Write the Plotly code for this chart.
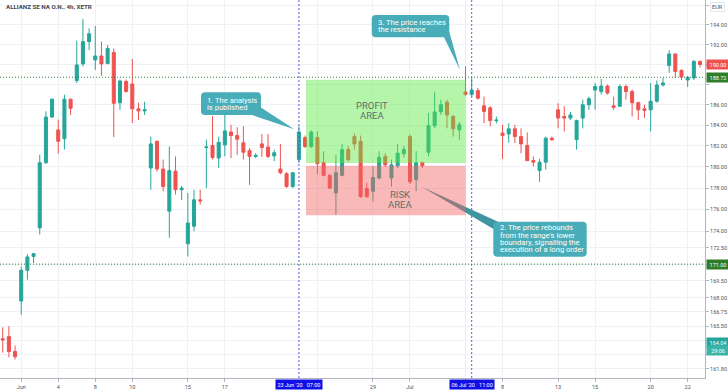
import math
import plotly.graph_objects as go

# ---------------- data ----------------
trading_days = [
    "2020-05-29",
    "2020-06-02", "2020-06-03", "2020-06-04", "2020-06-05",
    "2020-06-08", "2020-06-09", "2020-06-10", "2020-06-11", "2020-06-12",
    "2020-06-15", "2020-06-16", "2020-06-17", "2020-06-18", "2020-06-19",
    "2020-06-22", "2020-06-23", "2020-06-24", "2020-06-25", "2020-06-26",
    "2020-06-29", "2020-06-30",
    "2020-07-01", "2020-07-02", "2020-07-03",
    "2020-07-06", "2020-07-07", "2020-07-08", "2020-07-09", "2020-07-10",
    "2020-07-13", "2020-07-14", "2020-07-15", "2020-07-16", "2020-07-17",
    "2020-07-20", "2020-07-21", "2020-07-22",
]
session_hours = ["07:00", "11:00", "15:00"]

open_ = [
    164.4, 164.6, 163.3, 167.7, 170.45, 171.7, 174.3, 180.4, 184.8, 183.55,
    182.7, 186.55, 188.4, 190.05, 192.3, 190.45, 190.85, 190.1, 191.2, 186.2,
    188.3, 188.05, 185.6, 185.4, 179.9, 182.45, 179.8, 175.85, 179.6, 177.85,
    172.85, 174.45, 176.9, 181.85, 182.05, 180.85, 182.1, 183.35, 183.0, 182.3,
    181.55, 181.0, 182.2, 181.9, 181.05, 179.8, 179.35, 178.15, 180.7, 182.8,
    181.95, 182.8, 180.4, 179.2, 177.55, 179.2, 181.65, 182.9, 182.45, 177.95,
    177.7, 178.95, 181.0, 178.95, 180.1, 181.25, 182.9, 178.8, 180.4, 181.4,
    183.95, 185.3, 186.25, 184.85, 183.55, 187.25, 187.0, 187.4, 185.9, 185.7,
    184.45, 183.25, 183.15, 183.65, 182.9, 182.05, 180.6, 179.65, 180.45, 182.75,
    185.5, 184.85, 184.7, 182.6, 184.7, 186.0, 187.45, 187.3, 187.85, 185.9,
    185.85, 187.8, 187.3, 186.2, 185.6, 185.5, 186.35, 187.95, 189.9, 191.05,
    189.4, 188.45, 188.65, 190.3,
]
high = [
    165.4, 165.5, 163.8, 170.8, 171.9, 172.0, 181.15, 185.35, 186.6, 184.55,
    187.0, 186.6, 192.4, 194.6, 193.65, 193.9, 192.3, 191.95, 191.6, 188.5,
    188.5, 190.55, 186.2, 186.3, 182.9, 182.5, 180.7, 181.95, 181.0, 178.2,
    177.55, 177.85, 177.85, 182.6, 184.9, 182.9, 185.0, 184.05, 183.8, 183.9,
    181.8, 181.3, 183.15, 183.15, 181.65, 182.2, 179.5, 179.5, 183.9, 183.0,
    183.5, 183.4, 181.5, 179.3, 181.15, 182.2, 182.0, 183.2, 183.0, 178.5,
    180.05, 181.5, 181.3, 180.7, 182.2, 182.0, 183.1, 181.5, 180.5, 185.2,
    187.3, 186.5, 186.5, 185.0, 184.3, 189.8, 188.65, 187.65, 186.8, 185.85,
    184.85, 184.05, 184.2, 184.05, 183.7, 183.3, 181.0, 180.75, 182.9, 182.9,
    186.15, 185.85, 185.3, 184.55, 186.5, 186.8, 188.15, 188.55, 188.0, 186.8,
    188.0, 188.0, 187.5, 186.3, 186.0, 188.15, 188.4, 188.65, 191.45, 191.1,
    189.5, 188.85, 190.45, 190.4,
]
low = [
    163.2, 162.8, 162.6, 166.5, 169.6, 171.1, 173.7, 180.3, 184.7, 181.25,
    181.65, 185.0, 188.15, 189.8, 191.45, 189.45, 188.85, 190.0, 182.85, 185.5,
    187.2, 184.2, 184.5, 185.0, 177.85, 179.55, 177.7, 173.4, 177.4, 176.9,
    171.7, 174.0, 176.45, 178.0, 180.7, 179.9, 181.0, 180.85, 181.15, 180.7,
    178.3, 180.85, 180.95, 180.85, 180.55, 179.3, 178.0, 178.0, 180.4, 181.8,
    181.8, 179.3, 179.1, 177.9, 175.5, 179.1, 180.5, 181.65, 177.1, 177.1,
    176.75, 178.8, 180.0, 178.15, 179.9, 180.9, 178.4, 177.7, 179.9, 181.0,
    183.7, 185.0, 183.7, 182.9, 182.6, 186.9, 186.8, 186.5, 184.2, 183.9,
    184.2, 180.75, 182.3, 182.3, 181.3, 180.55, 180.05, 178.6, 179.75, 182.5,
    183.7, 183.4, 184.5, 181.65, 183.7, 185.5, 185.5, 187.0, 187.0, 185.5,
    185.8, 186.5, 184.85, 184.5, 184.7, 183.4, 186.2, 187.8, 189.15, 188.65,
    188.45, 187.75, 188.45, 189.7,
]
close = [
    164.3, 163.3, 162.85, 170.45, 171.65, 171.95, 180.4, 184.8, 186.55, 182.45,
    186.55, 185.65, 189.95, 192.3, 193.1, 190.85, 190.05, 191.6, 186.15, 188.35,
    187.3, 185.6, 185.4, 185.5, 182.2, 179.8, 178.15, 179.65, 177.85, 178.0,
    174.75, 176.9, 176.8, 181.9, 180.9, 182.35, 183.45, 183.0, 182.65, 181.4,
    181.0, 181.1, 181.85, 181.0, 181.35, 179.45, 178.15, 179.45, 183.35, 181.95,
    183.35, 180.3, 179.2, 178.0, 179.45, 181.65, 180.7, 182.2, 177.2, 177.2,
    179.0, 180.9, 180.2, 180.2, 181.3, 181.65, 178.6, 180.4, 180.1, 183.95,
    185.3, 186.0, 185.0, 183.65, 184.05, 187.0, 187.45, 186.65, 185.35, 184.45,
    184.5, 183.0, 183.65, 182.9, 182.2, 180.6, 180.45, 180.45, 182.75, 182.6,
    184.7, 184.7, 185.0, 184.45, 186.0, 186.6, 187.8, 187.85, 187.15, 185.75,
    187.8, 187.3, 186.2, 185.5, 185.45, 186.35, 187.95, 188.15, 191.05, 189.3,
    188.75, 188.7, 190.3, 190.0,
]

tick_times = [
    "2020-06-02 07:00", "2020-06-04 07:00", "2020-06-08 07:00", "2020-06-10 07:00",
    "2020-06-15 07:00", "2020-06-17 07:00", "2020-06-24 07:00", "2020-06-29 07:00",
    "2020-07-01 07:00", "2020-07-06 07:00", "2020-07-08 07:00", "2020-07-13 07:00",
    "2020-07-15 07:00", "2020-07-20 07:00", "2020-07-22 07:00",
]
tick_labels = ["Jun", "4", "8", "10", "15", "17", "", "29", "Jul", "", "8", "13", "15", "20", "22"]

price_ticks = [196, 194, 192, 190, 188, 186, 184, 182, 180, 178, 176, 174, 172.5,
               171, 169.5, 168, 166.75, 165.5, 164.25, 163, 161.8]
price_tick_labels = ["", "194.00", "192.00", "", "", "186.00", "184.00", "182.00",
                     "180.00", "178.00", "176.00", "174.00", "172.50", "", "169.50",
                     "168.00", "166.75", "165.50", "", "", "161.80"]

resistance_level = 188.72
support_level = 171.00
last_price = 190.00
marker_price = 164.04
countdown_text = "29:06"

profit_zone = (180.38, 188.46)
risk_zone = (175.46, 180.12)
zone_bars = (49.15, 75.03)

analysis_time = "2020-06-23 07:00"
resistance_time = "2020-07-06 11:00"
analysis_label = "23 Jun '20\u00a0\u00a0\u00a007:00"
resistance_label = "06 Jul '20\u00a0\u00a0\u00a011:00"

profit_text = ["PROFIT", "AREA"]
risk_text = ["RISK", "AREA"]
callout_analysis = ["1. The analysis", "is published"]
callout_resistance = ["3. The price reaches", "the resistance"]
callout_rebound = ["2. The price rebounds", "from the range's lower",
                   "boundary, signalling the", "execution of a long order"]

title_text = "ALLIANZ SE NA O.N., 4h, XETR"
currency_text = "EUR"

# ---------------- figure ----------------
times = [f"{d} {h}" for d in trading_days for h in session_hours]

FONT = "Roboto, 'Liberation Sans', Arial, sans-serif"
UP, DOWN = "#26a69a", "#ef5350"
GRID = "#eef1f6"
AXIS = "#b2b5be"
CALLOUT = "#48adb8"

W, H = 705.0, 378.0   # plot area in pixels
def X(px):
    return px / W
def Y(py):
    return 1 - py / H

fig = go.Figure()
fig.add_trace(go.Candlestick(
    x=times, open=open_, high=high, low=low, close=close,
    increasing=dict(line=dict(color=UP, width=1), fillcolor=UP),
    decreasing=dict(line=dict(color=DOWN, width=1), fillcolor=DOWN),
    whiskerwidth=0, showlegend=False, hoverinfo="skip",
))

y_top, y_bot = 196.57, 161.03

shapes = []
# horizontal dotted levels
for lvl in (resistance_level, support_level):
    shapes.append(dict(type="line", xref="paper", x0=0, x1=1, yref="y", y0=lvl, y1=lvl,
                       line=dict(color="#2e7d32", width=1, dash="1px,2px"), layer="above"))
# vertical dashed time markers
for t in (analysis_time, resistance_time):
    shapes.append(dict(type="line", xref="x", x0=t, x1=t, yref="paper", y0=0, y1=1,
                       line=dict(color="#5560d8", width=1, dash="2px,2px"), layer="above"))


def rrect(x0, y0, x1, y1, r):
    return (f"M {X(x0+r)},{Y(y0)} L {X(x1-r)},{Y(y0)} Q {X(x1)},{Y(y0)} {X(x1)},{Y(y0+r)} "
            f"L {X(x1)},{Y(y1-r)} Q {X(x1)},{Y(y1)} {X(x1-r)},{Y(y1)} "
            f"L {X(x0+r)},{Y(y1)} Q {X(x0)},{Y(y1)} {X(x0)},{Y(y1-r)} "
            f"L {X(x0)},{Y(y0+r)} Q {X(x0)},{Y(y0)} {X(x0+r)},{Y(y0)} Z")


def tri(p1, p2, p3):
    return f"M {X(p1[0])},{Y(p1[1])} L {X(p2[0])},{Y(p2[1])} L {X(p3[0])},{Y(p3[1])} Z"


# tail of the rebound callout (drawn before zones so the risk overlay tints it)
shapes.append(dict(type="path", xref="paper", yref="paper",
                   path=tri((421.7, 186.7), (493.5, 229), (498, 221.7)),
                   fillcolor="#3f95a0", line=dict(width=0), layer="above"))

# profit / risk zones
shapes.append(dict(type="rect", xref="x", yref="y", x0=zone_bars[0], x1=zone_bars[1],
                   y0=profit_zone[0], y1=profit_zone[1], fillcolor="#5be840",
                   opacity=0.45, line=dict(width=0), layer="above"))
shapes.append(dict(type="rect", xref="x", yref="y", x0=zone_bars[0], x1=zone_bars[1],
                   y0=risk_zone[0], y1=risk_zone[1], fillcolor="#f26363",
                   opacity=0.45, line=dict(width=0), layer="above"))

# callout boxes and tails
shapes.append(dict(type="path", xref="paper", yref="paper", path=rrect(201, 92.3, 261, 115, 4),
                   fillcolor=CALLOUT, line=dict(width=0), layer="above"))
shapes.append(dict(type="path", xref="paper", yref="paper",
                   path=tri((252, 115), (261, 107.5), (294.3, 129.3)),
                   fillcolor=CALLOUT, line=dict(width=0), layer="above"))
shapes.append(dict(type="path", xref="paper", yref="paper", path=rrect(371.7, 15, 449.3, 37.3, 4),
                   fillcolor=CALLOUT, line=dict(width=0), layer="above"))
shapes.append(dict(type="path", xref="paper", yref="paper",
                   path=tri((444, 37.3), (449.3, 32), (460, 70)),
                   fillcolor=CALLOUT, line=dict(width=0), layer="above"))
shapes.append(dict(type="path", xref="paper", yref="paper", path=rrect(493.3, 221.7, 586.7, 256.7, 4),
                   fillcolor=CALLOUT, line=dict(width=0), layer="above"))

annotations = []
# title
annotations.append(dict(xref="paper", yref="paper", x=X(4), y=Y(7), xanchor="left", yanchor="middle",
                        text=f"<b>{title_text}</b>", showarrow=False,
                        font=dict(family=FONT, size=6.2, color="#434651")))
annotations.append(dict(xref="paper", yref="paper", x=1, y=Y(7), xanchor="left", yanchor="middle",
                        xshift=5, text=currency_text, showarrow=False, bordercolor="#e3e6ee",
                        borderwidth=1, borderpad=1,
                        font=dict(family=FONT, size=5.5, color="#50535e")))


def text_lines(lines, x, y0, step, font, anchor="left"):
    for i, s in enumerate(lines):
        annotations.append(dict(xref="paper", yref="paper", x=X(x), y=Y(y0 + i * step),
                                xanchor=anchor, yanchor="middle", text=s, showarrow=False,
                                font=font))

# zone texts
zone_font = dict(family=FONT, size=9.5, color="#5e7269")
text_lines(profit_text, 372, 105.7, 10, zone_font, anchor="center")
text_lines(risk_text, 400, 194.5, 10, zone_font, anchor="center")

# callout texts (one annotation per line for tight spacing)
callout_font = dict(family=FONT, size=7.6, color="white")
text_lines(callout_analysis, 205, 100.7, 7.2, callout_font)
text_lines(callout_resistance, 376, 22.5, 7.2, callout_font)
text_lines(callout_rebound, 497.5, 227.7, 7.4, callout_font)

# price labels on the right axis
def price_label(price, text, color, yshift=0):
    annotations.append(dict(xref="paper", yref="y", x=1, y=math.log10(price), xanchor="left",
                            yanchor="middle", xshift=1, yshift=yshift, text=text, showarrow=False,
                            bgcolor=color, borderpad=1.5, width=19, align="center",
                            font=dict(family=FONT, size=5.5, color="white")))

price_label(last_price, f"{last_price:.2f}", "#ef5350")
price_label(resistance_level, f"{resistance_level:.2f}", "#2f7d28")
price_label(support_level, f"{support_level:.2f}", "#2f7d28")
price_label(marker_price, f"{marker_price:.2f}", "#26a69a")
price_label(marker_price, countdown_text, "#3bb3a6", yshift=-8)

# highlighted time labels on the bottom axis
for t, lab in ((analysis_time, analysis_label), (resistance_time, resistance_label)):
    annotations.append(dict(xref="x", yref="paper", x=t, y=0, xanchor="center", yanchor="top",
                            yshift=-1, text=lab, showarrow=False, bgcolor="#1010e6", borderpad=1.5,
                            font=dict(family=FONT, size=5.5, color="white")))

fig.update_layout(
    width=728, height=391, autosize=False,
    margin=dict(l=0, r=23, t=0, b=13, pad=0),
    paper_bgcolor="white", plot_bgcolor="white",
    shapes=shapes, annotations=annotations,
    font=dict(family=FONT),
    xaxis=dict(
        type="category", range=[-0.44, 113.81], rangeslider=dict(visible=False),
        tickmode="array", tickvals=tick_times, ticktext=tick_labels,
        showgrid=True, gridcolor=GRID, gridwidth=1,
        ticks="outside", ticklen=3, tickcolor=AXIS,
        showline=True, linecolor=AXIS, linewidth=1,
        tickfont=dict(family=FONT, size=5.5, color="#50535e"),
        zeroline=False, fixedrange=True,
    ),
    yaxis=dict(
        type="log", side="right",
        range=[math.log10(y_bot), math.log10(y_top)],
        tickmode="array", tickvals=price_ticks, ticktext=price_tick_labels,
        showgrid=True, gridcolor=GRID, gridwidth=1,
        ticks="outside", ticklen=3, tickcolor=AXIS,
        showline=True, linecolor=AXIS, linewidth=1,
        tickfont=dict(family=FONT, size=5.5, color="#50535e"),
        zeroline=False, fixedrange=True,
    ),
)

fig.write_html("out.html", config={"displayModeBar": False},
               post_script="document.body.style.margin='0px';document.body.style.overflow='hidden';")
